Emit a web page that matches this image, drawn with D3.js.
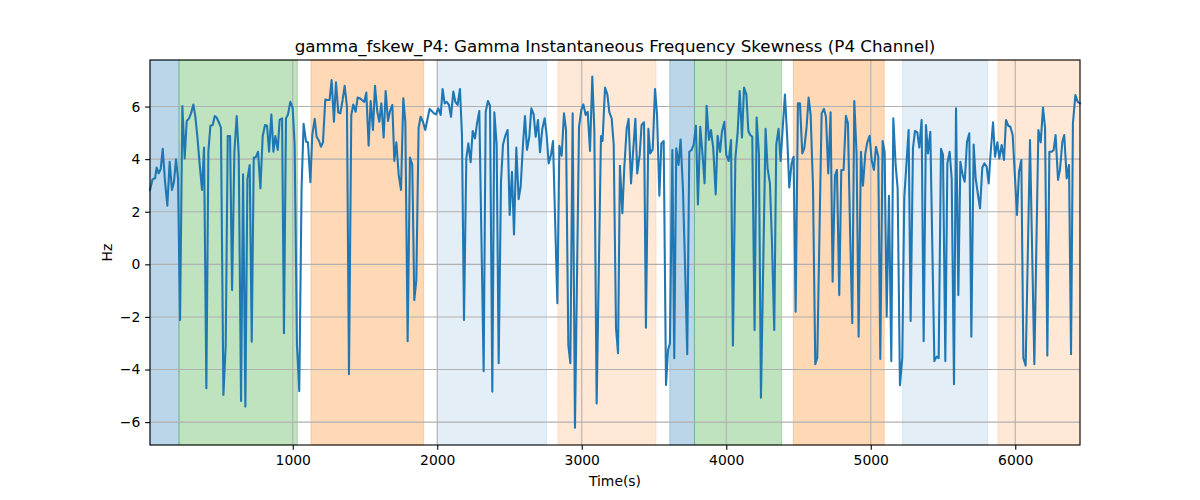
<!DOCTYPE html>
<html>
<head>
<meta charset="utf-8">
<script src="https://cdn.jsdelivr.net/npm/d3@7"></script>
<style>
  body { margin: 0; background: #fff; }
  text { font-family: "DejaVu Sans", sans-serif; }
</style>
</head>
<body>
<script>
// [time (s), skewness (Hz)]
const skewPoints = [
  [12, 2.83], [30, 3.24], [47, 3.27], [58, 3.68], [72, 3.46], [86, 3.62], [100, 4.39], [116, 3.14], [132, 2.23], [148, 3.90],
  [164, 2.83], [178, 3.14], [192, 3.99], [206, 3.27], [220, -2.12], [236, 6.02], [252, 4.03], [266, 5.45], [282, 5.55], [296, 5.74],
  [312, 6.08], [326, 5.61], [340, 4.85], [356, 3.78], [372, 2.83], [386, 4.44], [402, -4.71], [416, 4.28], [430, 5.27], [446, 5.30],
  [460, 5.64], [473, 5.58], [487, 5.42], [503, 5.20], [520, -4.97], [536, -3.07], [550, 4.88], [566, 4.88], [580, -0.98], [596, 4.28],
  [612, 5.64], [626, 4.16], [642, -5.20], [656, 3.42], [672, -5.41], [686, 3.24], [702, 3.78], [716, -2.94], [730, 4.06], [743, 4.06],
  [760, 4.28], [776, 2.89], [792, 4.88], [808, 5.30], [822, 5.27], [836, 4.28], [852, 5.70], [866, 4.28], [879, 4.88], [896, 4.35],
  [909, 5.49], [926, 5.55], [939, -2.62], [953, 5.55], [967, 5.70], [983, 6.18], [999, 5.96], [1013, 4.54], [1029, -3.07], [1045, -4.82],
  [1061, 2.89], [1075, 5.34], [1092, 4.66], [1105, 4.64], [1122, 3.12], [1135, 4.92], [1152, 5.53], [1165, 4.85], [1182, 4.69], [1195, 4.47],
  [1209, 4.64], [1225, 6.27], [1239, 6.25], [1255, 6.25], [1269, 7.01], [1285, 5.42], [1299, 6.92], [1315, 5.78], [1329, 5.74], [1345, 6.25],
  [1359, 6.79], [1375, 6.00], [1389, -4.18], [1405, 5.68], [1419, 6.08], [1435, 5.80], [1449, 6.34], [1465, 6.31], [1479, 6.25], [1495, 6.18],
  [1509, 6.53], [1525, 4.51], [1539, 6.21], [1555, 5.11], [1569, 6.79], [1585, 5.80], [1599, 5.42], [1613, 6.12], [1629, 4.82], [1643, 6.59],
  [1659, 5.45], [1673, 5.83], [1689, 6.06], [1703, 3.93], [1717, 4.64], [1733, 3.40], [1749, 2.83], [1765, 6.31], [1779, 5.42], [1795, -2.92],
  [1811, 4.06], [1827, 3.78], [1841, -1.36], [1855, -0.60], [1871, 5.20], [1885, 5.61], [1901, 5.42], [1917, 5.11], [1931, 5.49], [1947, 5.91],
  [1961, 5.83], [1977, 5.74], [1991, 5.70], [2007, 5.93], [2024, 5.68], [2037, 6.67],
  [2051, 6.12], [2065, 6.18], [2081, 6.06], [2095, 5.61], [2111, 6.57], [2125, 6.18], [2141, 6.06], [2157, 6.67], [2171, 4.92], [2185, -2.12],
  [2201, 4.03], [2215, 4.60], [2231, 3.88], [2245, 5.07], [2261, 4.79], [2275, 5.36], [2291, 5.83], [2321, -4.06], [2335, 5.80], [2351, 6.21],
  [2365, 6.03], [2381, -4.84], [2395, 5.78], [2411, 4.54], [2425, -3.76], [2441, 3.14], [2455, 4.56], [2471, 4.89], [2487, 5.11], [2501, 1.88],
  [2517, 3.52], [2531, 1.14], [2547, 4.44], [2563, 2.48], [2577, 2.95], [2593, 4.54], [2607, 5.64], [2621, 4.35], [2637, 4.85], [2651, 5.93],
  [2667, 5.70], [2681, 4.85], [2697, 5.49], [2711, 4.26], [2727, 5.15], [2743, 5.55], [2757, 4.92], [2771, 3.84], [2787, 4.16], [2801, 4.69],
  [2831, -1.48], [2845, 4.51], [2861, 4.13], [2877, 5.74], [2891, 5.11], [2907, -3.07], [2921, -3.76], [2937, 5.74], [2953, -6.21], [2981, 5.23],
  [2997, 5.87], [3011, 6.08], [3027, 5.68], [3041, 5.80], [3057, 4.31], [3073, 7.14], [3087, 5.11], [3103, -5.29],
  [3133, 4.88], [3144, 4.69], [3161, 6.72], [3177, 6.46], [3191, 5.78], [3207, 5.55], [3221, 4.56], [3237, -2.43], [3251, -3.38], [3264, 3.75],
  [3281, 1.94], [3294, 3.65], [3311, 5.17], [3324, 5.53], [3341, 3.08], [3354, 4.18], [3371, 5.53], [3384, 3.46], [3401, 4.18], [3414, 5.30],
  [3431, 5.40], [3444, -2.41], [3461, 5.15], [3474, 4.22], [3491, 4.37], [3507, 6.67], [3521, 5.68], [3537, 2.61], [3551, 4.60], [3567, 4.69],
  [3583, -4.59], [3597, -3.26], [3610, -3.00], [3627, 4.35], [3640, -3.57], [3654, 4.41], [3670, 3.78], [3684, 4.75], [3700, 2.89], [3714, 0.10],
  [3730, -3.42], [3744, 4.28], [3760, 4.35], [3774, 4.54], [3790, 5.27], [3804, 2.28], [3820, 5.23], [3834, 4.30], [3850, 3.08], [3864, 6.03],
  [3880, 4.73], [3894, 5.11], [3910, 4.41], [3927, 2.66], [3940, 4.89], [3957, 4.28], [3970, 5.04], [3987, 5.42], [4000, 4.16], [4017, 3.93],
  [4033, 4.73], [4046, -3.09], [4063, 4.03], [4079, 5.04], [4093, 6.59], [4109, 4.82], [4123, 6.72], [4139, 6.46], [4153, 5.07],
  [4166, 4.92], [4180, 4.85], [4196, -2.50], [4210, 5.58], [4226, 4.20], [4240, -5.07], [4272, 5.15], [4286, 3.65], [4302, 3.08], [4316, 0.90],
  [4332, -2.50], [4346, 4.56], [4362, 5.15], [4376, 3.93], [4392, 5.30], [4406, 6.46], [4422, 4.80], [4436, 2.92], [4452, 3.84], [4466, 4.09],
  [4480, -1.80], [4496, 6.12], [4510, 6.12], [4526, 4.22], [4540, 4.41], [4556, 5.23], [4570, 6.34], [4584, 5.68], [4600, 3.00], [4616, -3.80],
  [4630, -3.55], [4646, 1.50], [4660, 5.74], [4676, 5.91], [4690, 5.61], [4706, 3.46], [4722, 5.78], [4736, -0.66], [4752, 3.37], [4766, 3.59],
  [4782, -1.17], [4796, 3.59], [4812, 3.59], [4828, 5.65], [4842, 5.36], [4858, 1.00], [4872, -2.24], [4886, 6.21], [4902, 4.16], [4916, -2.75],
  [4932, 4.28], [4946, 2.99], [4962, 4.20], [4976, 4.64], [4992, 4.89], [5006, 3.97], [5022, 3.59], [5036, 4.47], [5052, 4.09], [5066, -3.60],
  [5082, 4.69], [5096, 4.26], [5110, -1.99], [5126, 2.61], [5142, -3.68], [5156, 5.55], [5172, 3.78], [5186, 2.89], [5202, -4.60],
  [5218, -3.57], [5232, 2.57], [5248, 3.90], [5262, 5.11], [5276, -2.15], [5292, 4.41], [5306, 5.07], [5322, 5.02], [5336, 4.44], [5352, 5.49],
  [5366, -2.92], [5382, 5.30], [5396, 4.22], [5412, 5.04], [5440, -3.68], [5456, -3.51], [5470, -3.57], [5486, 4.39], [5500, 4.16], [5516, -3.68],
  [5530, 3.84], [5546, 4.28], [5560, 3.27], [5576, -4.56], [5590, 5.93], [5606, -1.17], [5620, 3.90], [5636, 3.40], [5650, 3.14], [5666, 4.66],
  [5682, 4.98], [5696, -2.75], [5712, 4.56], [5726, 3.27], [5742, 2.64], [5756, 2.13], [5772, 3.68], [5786, 3.84], [5802, 3.71], [5816, 3.08],
  [5830, 4.28], [5846, 5.40], [5860, 4.09], [5876, 4.64], [5890, 4.03], [5906, 4.54], [5922, 3.97], [5936, 5.49], [5952, 5.27], [5966, 5.23],
  [5982, 4.92], [5996, 3.50], [6012, 1.88], [6026, 3.52], [6042, 3.97], [6056, -3.57], [6072, -3.85], [6102, 4.73], [6132, -3.80], [6160, 5.11],
  [6176, 4.64], [6192, 5.96], [6206, 5.20], [6222, -3.47], [6236, 4.28], [6252, 4.28], [6266, 4.35], [6279, 4.92], [6296, 3.21], [6309, 3.59],
  [6326, 4.66], [6339, 4.92], [6356, 3.27], [6372, 3.78], [6386, -3.42], [6399, 5.36], [6416, 6.44], [6432, 6.18], [6448, 6.12]
]

// shaded stage bands
const bandStart = [12, 213, 1126, 2000, 2835, 3609, 3780, 4464, 5220, 5880]
const bandEnd   = [213, 1032, 1906, 2757, 3514, 3780, 4383, 5093, 5809, 6448]
const bandColor = ['#1f77b4', '#2ca02c', '#ff7f0e', '#1f77b4', '#ff7f0e', '#1f77b4', '#2ca02c', '#ff7f0e', '#1f77b4', '#ff7f0e']
const bandAlpha = [0.3, 0.3, 0.3, 0.12, 0.17, 0.3, 0.3, 0.3, 0.12, 0.17]

const xTicks = [1000, 2000, 3000, 4000, 5000, 6000]
const yTicks = [-6, -4, -2, 0, 2, 4, 6]

const width = 1200
const height = 500
const margin = {top: 60, right: 120, bottom: 55, left: 150}
const innerW = width - margin.left - margin.right
const innerH = height - margin.top - margin.bottom

const svg = d3.select('body').append('svg')
  .attr('width', width)
  .attr('height', height)

const x = d3.scaleLinear().domain([12, 6448]).range([0, innerW])
const y = d3.scaleLinear().domain([-6.87, 7.77]).range([innerH, 0])

const g = svg.append('g')
  .attr('transform', `translate(${margin.left},${margin.top})`)

const bands = bandStart.map((s, i) => ({s, e: bandEnd[i], c: bandColor[i], a: bandAlpha[i]}))

g.selectAll('rect.band')
  .data(bands)
  .join('rect')
  .attr('class', 'band')
  .attr('x', d => x(d.s))
  .attr('y', 0)
  .attr('width', d => x(d.e) - x(d.s))
  .attr('height', innerH)
  .attr('fill', d => d.c)
  .attr('fill-opacity', d => d.a)
  .attr('stroke', d => d.c)
  .attr('stroke-opacity', d => d.a)
  .attr('stroke-width', 1)

// grid
g.selectAll('line.xgrid')
  .data(xTicks)
  .join('line')
  .attr('class', 'xgrid')
  .attr('x1', d => x(d)).attr('x2', d => x(d))
  .attr('y1', 0).attr('y2', innerH)
  .attr('stroke', '#b0b0b0').attr('stroke-width', 1.1)

g.selectAll('line.ygrid')
  .data(yTicks)
  .join('line')
  .attr('class', 'ygrid')
  .attr('x1', 0).attr('x2', innerW)
  .attr('y1', d => y(d)).attr('y2', d => y(d))
  .attr('stroke', '#b0b0b0').attr('stroke-width', 1.1)

const line = d3.line()
  .x(d => x(d[0]))
  .y(d => y(d[1]))

g.append('path')
  .datum(skewPoints)
  .attr('fill', 'none')
  .attr('stroke', '#1f77b4')
  .attr('stroke-width', 2.08)
  .attr('stroke-linejoin', 'round')
  .attr('stroke-linecap', 'square')
  .attr('d', line)

// frame
g.append('rect')
  .attr('width', innerW).attr('height', innerH)
  .attr('fill', 'none').attr('stroke', '#000').attr('stroke-width', 1.1)

const xAxis = d3.axisBottom(x).tickValues(xTicks).tickSize(4.86).tickPadding(4.86).tickFormat(d3.format('d'))
const yAxis = d3.axisLeft(y).tickValues(yTicks).tickSize(4.86).tickPadding(4.86).tickFormat(d3.format('d'))

const xAxisGroup = g.append('g')
  .attr('transform', `translate(0,${innerH})`)
  .call(xAxis)
const yAxisGroup = g.append('g')
  .call(yAxis)

for (const ax of [xAxisGroup, yAxisGroup]) {
  ax.select('.domain').remove()
  ax.selectAll('.tick line').attr('stroke', '#000').attr('stroke-width', 1.1)
  ax.selectAll('.tick text')
    .attr('fill', '#000')
    .style('font-family', '"DejaVu Sans", sans-serif')
    .style('font-size', '13.9px')
}

svg.append('text')
  .attr('x', margin.left + innerW / 2)
  .attr('y', 52)
  .attr('text-anchor', 'middle')
  .style('font-size', '16.7px')
  .text('gamma_fskew_P4: Gamma Instantaneous Frequency Skewness (P4 Channel)')

svg.append('text')
  .attr('x', margin.left + innerW / 2)
  .attr('y', 486)
  .attr('text-anchor', 'middle')
  .style('font-size', '13.9px')
  .text('Time(s)')

svg.append('text')
  .attr('transform', `translate(112,${margin.top + innerH / 2}) rotate(-90)`)
  .attr('text-anchor', 'middle')
  .style('font-size', '13.9px')
  .text('Hz')
</script>
</body>
</html>
